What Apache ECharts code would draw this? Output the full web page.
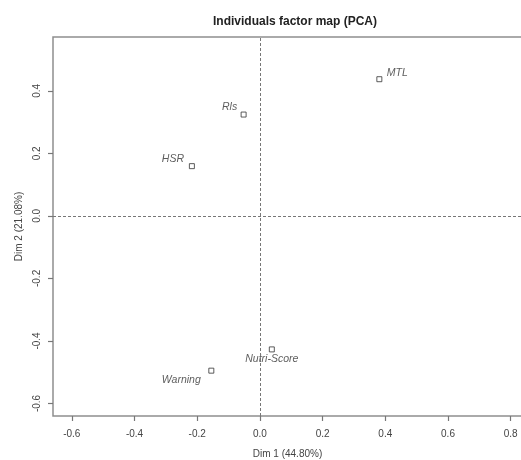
<!DOCTYPE html>
<html>
<head>
<meta charset="utf-8">
<script src="https://cdn.jsdelivr.net/npm/echarts@6/dist/echarts.min.js"></script>
<style>html,body{margin:0;padding:0;background:#fff}#c{width:521px;height:460px}</style>
</head>
<body>
<div id="c"></div>
<script>
var names = ['MTL', 'Rls', 'HSR', 'Nutri-Score', 'Warning'];
var dim1 = [0.381, -0.052, -0.217, 0.038, -0.155];
var dim2 = [0.437, 0.324, 0.159, -0.427, -0.495];
var xTicks = [-0.6, -0.4, -0.2, 0.0, 0.2, 0.4, 0.6, 0.8];
var yTicks = [-0.6, -0.4, -0.2, 0.0, 0.2, 0.4];
var labelOffsets = [[18, -6], [-14, -7], [-19, -7], [0, 10], [-30, 9]];

var font = 'Liberation Sans, Arial, sans-serif';
var data = names.map(function (n, i) {
  return {
    name: n,
    value: [dim1[i], dim2[i]],
    label: { offset: labelOffsets[i] }
  };
});

var chart = echarts.init(document.getElementById('c'), null, { renderer: 'canvas' });
chart.setOption({
  animation: false,
  backgroundColor: '#fff',
  title: {
    text: 'Individuals factor map (PCA)',
    left: 290,
    top: 11,
    textAlign: 'center',
    textStyle: { fontFamily: font, fontSize: 12, fontWeight: 'bold', color: '#222' }
  },
  grid: {
    left: 53, top: 37, right: -1, bottom: 44,
    outerBoundsMode: 'none',
    containLabel: false,
    show: true, borderColor: '#8e8e8e', borderWidth: 1.5, backgroundColor: 'transparent'
  },
  xAxis: {
    type: 'value',
    min: -0.66, max: 0.836,
    name: 'Dim 1 (44.80%)',
    nameLocation: 'middle',
    nameGap: 33,
    nameTextStyle: { fontFamily: font, fontSize: 10, color: '#444' },
    axisLine: { show: false, onZero: false },
    axisTick: { show: true, inside: false, customValues: xTicks, length: 5, lineStyle: { color: '#777', width: 1.2 } },
    axisLabel: {
      customValues: xTicks, margin: 13, fontFamily: font, fontSize: 10, color: '#444',
      formatter: function (v) { return v.toFixed(1); }
    },
    splitLine: { show: false }
  },
  yAxis: {
    type: 'value',
    min: -0.64, max: 0.572,
    name: 'Dim 2 (21.08%)',
    nameLocation: 'middle',
    nameGap: 29,
    nameTextStyle: { fontFamily: font, fontSize: 10, color: '#444' },
    axisLine: { show: false, onZero: false },
    axisTick: { show: true, inside: false, customValues: yTicks, length: 5, lineStyle: { color: '#777', width: 1.2 } },
    axisLabel: {
      customValues: yTicks, margin: 11, rotate: 90, fontFamily: font, fontSize: 10, color: '#444',
      formatter: function (v) { return v.toFixed(1); }
    },
    splitLine: { show: false }
  },
  series: [{
    type: 'scatter',
    symbol: 'rect',
    symbolSize: 5,
    itemStyle: { color: '#fff', borderColor: '#333', borderWidth: 1 },
    label: {
      show: true,
      position: 'inside',
      formatter: '{b}',
      fontFamily: font,
      fontStyle: 'italic',
      fontSize: 10.5,
      color: '#333'
    },
    data: data,
    markLine: {
      silent: true,
      symbol: 'none',
      label: { show: false },
      lineStyle: { color: '#777', type: [3, 2], width: 1 },
      data: [{ xAxis: 0 }, { yAxis: 0 }]
    }
  }]
});
</script>
</body>
</html>
